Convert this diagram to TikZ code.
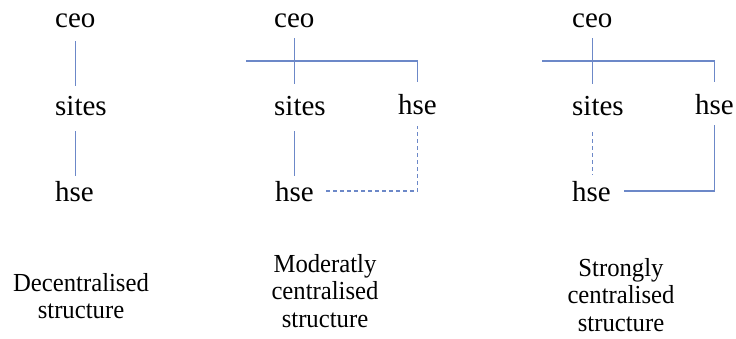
\documentclass[tikz,border=0pt]{standalone}
\usepackage{fontspec}
\setmainfont{Liberation Serif}
\newfontfamily\condserif[FakeStretch=0.95]{Liberation Serif}
\usepackage{tikz}
\usepackage{xcolor}
\definecolor{linkblue}{RGB}{108,136,200}
\tikzstyle{unit} = [inner sep=0pt, anchor=base west, font=\fontsize{29}{32}\selectfont]
\tikzstyle{caption} = [inner sep=0pt, align=center, font=\condserif\fontsize{26}{27.7}\selectfont]
\tikzstyle{link} = [draw=linkblue, line width=1.2pt]
\tikzstyle{dotlink} = [link, dash pattern=on 4pt off 3pt]

\begin{document}
\begin{tikzpicture}[x=1pt,y=-1pt]
  \useasboundingbox (0,0) rectangle (736,338);
  % decentralised
  \node[unit] (ceo_a) at (55,27) {ceo};
  \node[unit] (sites_a) at (55,115) {sites};
  \node[unit] (hse_a) at (55,201) {hse};
  % moderately centralised
  \node[unit] (ceo_b) at (274,27) {ceo};
  \node[unit] (sites_b) at (274,115) {sites};
  \node[unit] (hse_b) at (275,201) {hse};
  \node[unit] (hseR_b) at (398,114) {hse};
  \coordinate (bar_b) at (246,61);
  % strongly centralised
  \node[unit] (ceo_c) at (572,27) {ceo};
  \node[unit] (sites_c) at (572,115) {sites};
  \node[unit] (hse_c) at (572,201) {hse};
  \node[unit] (hseR_c) at (695,114) {hse};
  \coordinate (bar_c) at (542,61);

  \node[caption] (cap_a) at (81,296) {Decentralised\\structure};
  \node[caption] (cap_b) at (325,291) {Moderatly\\centralised\\structure};
  \node[caption] (cap_c) at (621,295) {Strongly\\centralised\\structure};

  \path[link, shorten <=14pt, shorten >=10pt] (ceo_a.south) -- (ceo_a.south |- sites_a.north);
  \path[link, shorten <=16pt, shorten >=5pt] (ceo_a.south |- sites_a.south) -- (ceo_a.south |- hse_a.north);

  \path[link, shorten <=11pt, shorten >=12pt] (ceo_b.south) -- (ceo_b.south |- sites_b.north);
  \path[link, shorten >=12pt] (bar_b) -- (bar_b -| hseR_b.north) -- (hseR_b.north);
  \path[link, shorten <=16pt, shorten >=5pt] (ceo_b.south |- sites_b.south) -- (ceo_b.south |- hse_b.north);
  \path[dotlink, shorten <=12pt, shorten >=12pt] (hse_b.east) -| (hseR_b.south);

  \path[link, shorten <=11pt, shorten >=12pt] (ceo_c.south) -- (ceo_c.south |- sites_c.north);
  \path[link, shorten >=12pt] (bar_c) -- (bar_c -| hseR_c.north) -- (hseR_c.north);
  \path[dotlink, shorten <=17pt, shorten >=6pt] (ceo_c.south |- sites_c.south) -- (ceo_c.south |- hse_c.north);
  \path[link, shorten <=11pt, shorten >=13pt] (hseR_c.south) |- (hse_c.east);
\end{tikzpicture}
\end{document}
